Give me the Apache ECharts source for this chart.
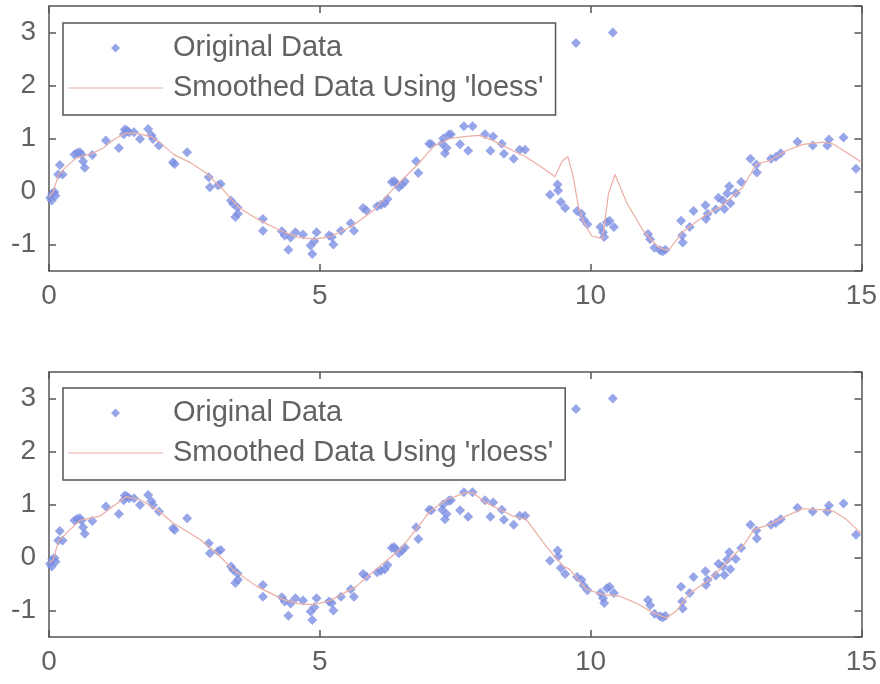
<!DOCTYPE html>
<html>
<head>
<meta charset="utf-8">
<script src="https://cdn.jsdelivr.net/npm/echarts@6/dist/echarts.min.js"></script>
<style>
  html, body { margin: 0; padding: 0; background: #ffffff; }
  #chart { width: 880px; height: 684px; }
</style>
</head>
<body>
<div id="chart"></div>
<script>
// Noisy sine samples (with two outliers at y ~ 3)
const dataX = [0.02,0.05,0.06,0.10,0.12,0.17,0.20,0.25,0.47,0.52,0.57,0.60,0.63,0.66,0.80,1.05,1.29,1.38,1.40,1.44,1.48,1.57,1.68,1.83,1.89,1.92,2.03,2.29,2.32,2.55,2.95,2.97,3.12,3.17,3.36,3.40,3.44,3.48,3.49,3.95,3.95,4.30,4.35,4.42,4.46,4.55,4.69,4.83,4.86,4.90,4.94,5.17,5.22,5.25,5.39,5.57,5.63,5.80,5.86,6.06,6.13,6.20,6.25,6.33,6.37,6.40,6.46,6.52,6.57,6.78,6.82,7.02,7.06,7.26,7.28,7.31,7.34,7.38,7.42,7.59,7.66,7.74,7.82,8.05,8.15,8.20,8.36,8.40,8.58,8.69,8.79,9.25,9.39,9.40,9.45,9.53,9.73,9.75,9.83,9.87,9.94,10.18,10.23,10.25,10.30,10.35,10.41,10.43,11.06,11.10,11.18,11.28,11.33,11.38,11.67,11.69,11.70,11.83,11.90,12.12,12.13,12.16,12.31,12.36,12.44,12.47,12.52,12.56,12.58,12.68,12.78,12.95,13.06,13.07,13.33,13.42,13.51,13.82,14.10,14.37,14.40,14.67,14.90];
const dataY = [-0.12,-0.17,-0.04,-0.01,-0.08,0.32,0.50,0.32,0.70,0.73,0.74,0.70,0.57,0.45,0.69,0.96,0.82,1.08,1.17,1.15,1.12,1.12,0.99,1.18,1.06,0.99,0.87,0.55,0.52,0.74,0.27,0.08,0.12,0.14,-0.17,-0.23,-0.48,-0.30,-0.42,-0.52,-0.74,-0.75,-0.83,-1.10,-0.87,-0.77,-0.81,-1.02,-1.18,-0.94,-0.77,-0.83,-0.86,-1.00,-0.74,-0.60,-0.74,-0.31,-0.36,-0.28,-0.25,-0.22,-0.14,0.18,0.20,0.16,0.08,0.13,0.19,0.57,0.35,0.90,0.89,0.90,1.00,0.72,0.82,1.07,1.08,0.89,1.23,0.77,1.23,1.08,0.77,1.04,0.90,0.71,0.62,0.79,0.79,-0.06,0.13,0.02,-0.20,-0.31,2.80,-0.37,-0.42,-0.53,-0.62,-0.67,-0.77,-0.86,-0.58,-0.55,3.00,-0.67,-0.80,-0.90,-1.06,-1.11,-1.13,-1.10,-0.55,-0.83,-0.96,-0.67,-0.37,-0.26,-0.52,-0.42,-0.34,-0.12,-0.17,-0.33,-0.04,0.10,-0.22,-0.03,0.18,0.62,0.51,0.36,0.62,0.65,0.72,0.94,0.87,0.87,0.98,1.02,0.43];

// 'loess' smoothed curve
const loessX = [0,0.08,0.17,0.30,0.50,0.80,1.00,1.20,1.40,1.60,1.90,2.10,2.30,2.60,2.90,3.20,3.50,3.90,4.30,4.60,4.90,5.20,5.60,6.00,6.40,6.80,7.10,7.40,7.70,7.95,8.20,8.57,8.81,9.18,9.34,9.48,9.58,9.68,9.77,9.86,10.02,10.22,10.33,10.45,10.66,10.97,11.25,11.40,11.46,11.70,12.07,12.44,12.81,13.06,13.30,13.61,13.92,14.29,14.47,14.72,15.00];
const loessY = [-0.10,0.00,0.30,0.45,0.63,0.72,0.82,0.98,1.10,1.10,1.03,0.88,0.70,0.55,0.35,0.05,-0.30,-0.55,-0.75,-0.86,-0.90,-0.85,-0.65,-0.35,0.10,0.50,0.85,1.00,1.04,1.06,0.96,0.77,0.65,0.40,0.28,0.58,0.66,0.27,-0.26,-0.55,-0.84,-0.89,-0.04,0.32,-0.20,-0.74,-1.05,-1.11,-1.08,-0.76,-0.48,-0.26,0.08,0.52,0.58,0.77,0.89,0.93,0.90,0.74,0.55];

// 'rloess' (robust) smoothed curve
const rloessX = [0,0.08,0.17,0.33,0.57,0.94,1.19,1.43,1.68,1.99,2.29,2.79,3.09,3.40,3.83,4.32,4.60,4.88,5.18,5.68,6.11,6.48,6.78,7.03,7.34,7.68,7.83,8.07,8.32,8.57,8.81,9.18,9.49,9.61,9.92,10.23,10.54,10.84,11.15,11.40,11.58,11.83,12.20,12.56,12.81,13.02,13.30,13.61,13.92,14.29,14.47,14.72,15.00];
const rloessY = [-0.10,-0.04,0.30,0.47,0.70,0.78,0.97,1.15,1.09,0.91,0.65,0.34,0.09,-0.23,-0.54,-0.79,-0.87,-0.89,-0.82,-0.54,-0.16,0.15,0.53,0.87,1.09,1.22,1.22,1.03,0.91,0.78,0.72,0.21,-0.16,-0.22,-0.60,-0.70,-0.73,-0.86,-1.04,-1.14,-1.01,-0.67,-0.42,-0.04,0.21,0.53,0.62,0.78,0.92,0.90,0.88,0.72,0.45];

const xTickLabels = ['0', '5', '10', '15'];
const yTickLabels = ['-1', '0', '1', '2', '3'];

const NAME_RAW = 'Original Data';
const NAME_LOESS = "Smoothed Data Using 'loess'";
const NAME_RLOESS = "Smoothed Data Using 'rloess'";

const pts = dataX.map((x, i) => [x, dataY[i]]);
const curve = (xs, ys) => xs.map((x, i) => [x, ys[i]]);

const FONT = "'Liberation Sans', Arial, sans-serif";
const AXIS_COLOR = '#555555';
const LABEL_COLOR = '#626262';
const DOT_COLOR = '#7d90e2';
const LINE_COLOR = '#ecaea4';

// Legend keys: a small diamond centred in a wide, empty box, and a plain line
const DIAMOND_KEY = 'path://M0,0 M95,9 M47.5,0 L52,4.5 L47.5,9 L43,4.5 Z';
const LINE_KEY = 'path://M0,4 L95,4 L95,5 L0,5 Z';

function xAxisFor(gridIndex, position, showLabels) {
  return {
    type: 'value', gridIndex, position, min: 0, max: 15, interval: 5,
    axisLine: { show: true, onZero: false, lineStyle: { color: AXIS_COLOR, width: 1.5 } },
    axisTick: { show: true, inside: true, length: 7, lineStyle: { color: AXIS_COLOR, width: 1.5 } },
    axisLabel: {
      show: showLabels, margin: 11, fontSize: 28, fontFamily: FONT, color: LABEL_COLOR,
      formatter: v => xTickLabels.includes(String(v)) ? String(v) : ''
    },
    splitLine: { show: false }
  };
}
function yAxisFor(gridIndex, position, showLabels) {
  return {
    type: 'value', gridIndex, position, min: -1.5, max: 3.5, splitNumber: 5,
    axisLine: { show: true, onZero: false, lineStyle: { color: AXIS_COLOR, width: 1.5 } },
    axisTick: { show: true, inside: true, length: 7, lineStyle: { color: AXIS_COLOR, width: 1.5 } },
    axisLabel: {
      show: showLabels, margin: 13, fontSize: 28, fontFamily: FONT, color: LABEL_COLOR,
      showMinLabel: false, showMaxLabel: false,
      formatter: v => yTickLabels.includes(String(v)) ? String(v) : ''
    },
    splitLine: { show: false }
  };
}
function legendFor(top, smoothName) {
  return {
    orient: 'vertical', left: 63, top,
    data: [
      { name: NAME_RAW, icon: DIAMOND_KEY, itemStyle: { color: DOT_COLOR } },
      { name: smoothName, icon: LINE_KEY, itemStyle: { color: LINE_COLOR, borderWidth: 0 } }
    ],
    itemWidth: 95, itemHeight: 9, itemGap: 10,
    padding: [10, 12, 12, 5],
    backgroundColor: '#ffffff',
    borderColor: AXIS_COLOR, borderWidth: 1.5, borderRadius: 0,
    selectedMode: false,
    textStyle: { fontSize: 29, fontFamily: FONT, color: LABEL_COLOR, lineHeight: 30, padding: [0, 0, 0, 5] }
  };
}

const chart = echarts.init(document.getElementById('chart'), null, { renderer: 'canvas' });
chart.setOption({
  animation: false,
  backgroundColor: '#ffffff',
  grid: [
    { left: 49, top: 6, width: 813, height: 265 },
    { left: 49, top: 372, width: 813, height: 265 }
  ],
  xAxis: [
    xAxisFor(0, 'bottom', true), xAxisFor(0, 'top', false),
    xAxisFor(1, 'bottom', true), xAxisFor(1, 'top', false)
  ],
  yAxis: [
    yAxisFor(0, 'left', true), yAxisFor(0, 'right', false),
    yAxisFor(1, 'left', true), yAxisFor(1, 'right', false)
  ],
  legend: [legendFor(23, NAME_LOESS), legendFor(388, NAME_RLOESS)],
  series: [
    { name: NAME_RAW, type: 'scatter', xAxisIndex: 0, yAxisIndex: 0, data: pts,
      symbol: 'diamond', symbolSize: 10, itemStyle: { color: DOT_COLOR } },
    { name: NAME_LOESS, type: 'line', xAxisIndex: 0, yAxisIndex: 0, data: curve(loessX, loessY),
      symbol: 'none', lineStyle: { color: LINE_COLOR, width: 1.2 }, itemStyle: { color: LINE_COLOR } },
    { name: NAME_RAW, type: 'scatter', xAxisIndex: 2, yAxisIndex: 2, data: pts,
      symbol: 'diamond', symbolSize: 10, itemStyle: { color: DOT_COLOR } },
    { name: NAME_RLOESS, type: 'line', xAxisIndex: 2, yAxisIndex: 2, data: curve(rloessX, rloessY),
      symbol: 'none', lineStyle: { color: LINE_COLOR, width: 1.2 }, itemStyle: { color: LINE_COLOR } }
  ]
});
</script>
</body>
</html>
